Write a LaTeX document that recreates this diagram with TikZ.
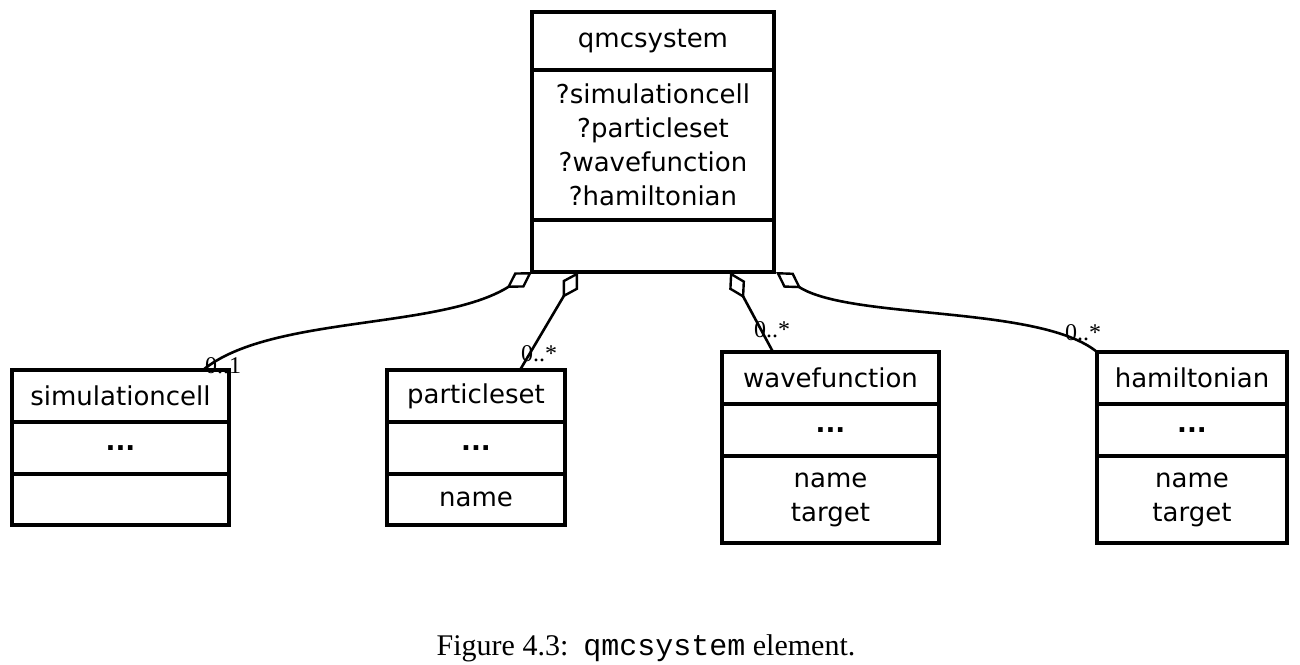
\documentclass[tikz,border=0pt]{standalone}
\usepackage{fontspec}
\setmainfont{DejaVu Sans}
\newfontfamily\serifcap{Liberation Serif}
\newfontfamily\monocap{Liberation Mono}
\usetikzlibrary{arrows.meta,positioning}

\begin{document}
\begin{tikzpicture}[x=1pt,y=1pt,
  part/.style={draw, line width=3.2pt, outer sep=0pt, inner sep=0pt, align=center,
    font=\fontsize{26}{34}\selectfont},
  aggr/.style={line width=2.6pt, -{Diamond[open,length=30pt,width=18pt,line width=2.4pt]}},
  mult/.style={font=\serifcap\fontsize{24}{24}\selectfont}]

\useasboundingbox (0,0) rectangle (1300,-664);

% qmcsystem — top class
\node[part, minimum width=242, minimum height=58, anchor=north west] (qs) at (532,-12) {qmcsystem};
\node[part, minimum width=242, minimum height=150, below=0pt of qs] (qs-attr)
  {?simulationcell\\?particleset\\?wavefunction\\?hamiltonian};
\node[part, minimum width=242, minimum height=52, below=0pt of qs-attr] (qs-ops) {};

% simulationcell
\node[part, minimum width=217, minimum height=52, anchor=north west] (sc) at (12,-370) {simulationcell};
\node[part, minimum width=217, minimum height=52, below=0pt of sc] (sc-attr) {\textbf{...}};
\node[part, minimum width=217, minimum height=51, below=0pt of sc-attr] (sc-ops) {};

% particleset
\node[part, minimum width=178, minimum height=52, anchor=north west] (ps) at (387,-370) {particleset};
\node[part, minimum width=178, minimum height=52, below=0pt of ps] (ps-attr) {\textbf{...}};
\node[part, minimum width=178, minimum height=51, below=0pt of ps-attr] (ps-ops) {name};

% wavefunction
\node[part, minimum width=217, minimum height=52, anchor=north west] (wf) at (722,-352) {wavefunction};
\node[part, minimum width=217, minimum height=52, below=0pt of wf] (wf-attr) {\textbf{...}};
\node[part, minimum width=217, minimum height=87, below=0pt of wf-attr] (wf-ops) {name\\target};

% hamiltonian
\node[part, minimum width=190, minimum height=52, anchor=north west] (hm) at (1097,-352) {hamiltonian};
\node[part, minimum width=190, minimum height=52, below=0pt of hm] (hm-attr) {\textbf{...}};
\node[part, minimum width=190, minimum height=87, below=0pt of hm-attr] (hm-ops) {name\\target};

% aggregations into qmcsystem
\draw[aggr] ([xshift=-26]sc.north east) .. controls +(67,55) and +(-92,-58) .. (qs-ops.south west);
\draw[aggr] ([xshift=-45]ps.north east) -- ([xshift=46]qs-ops.south west);
\draw[aggr] ([xshift=51]wf.north west) -- ([xshift=-44]qs-ops.south east);
\draw[aggr] (hm.north west) .. controls +(-57,47) and +(74,-48) .. ([xshift=2]qs-ops.south east);

% multiplicities
\node[mult] (m-sc) at (223,-366) {0..1};
\node[mult] (m-ps) at (539,-354) {0..*};
\node[mult] (m-wf) at (772,-330) {0..*};
\node[mult] (m-hm) at (1083,-333) {0..*};

% caption
\node[font=\serifcap\fontsize{30}{34}\selectfont] (cap) at (646,-648)
  {Figure 4.3:\ \ {\monocap qmcsystem} element.};

\end{tikzpicture}
\end{document}
